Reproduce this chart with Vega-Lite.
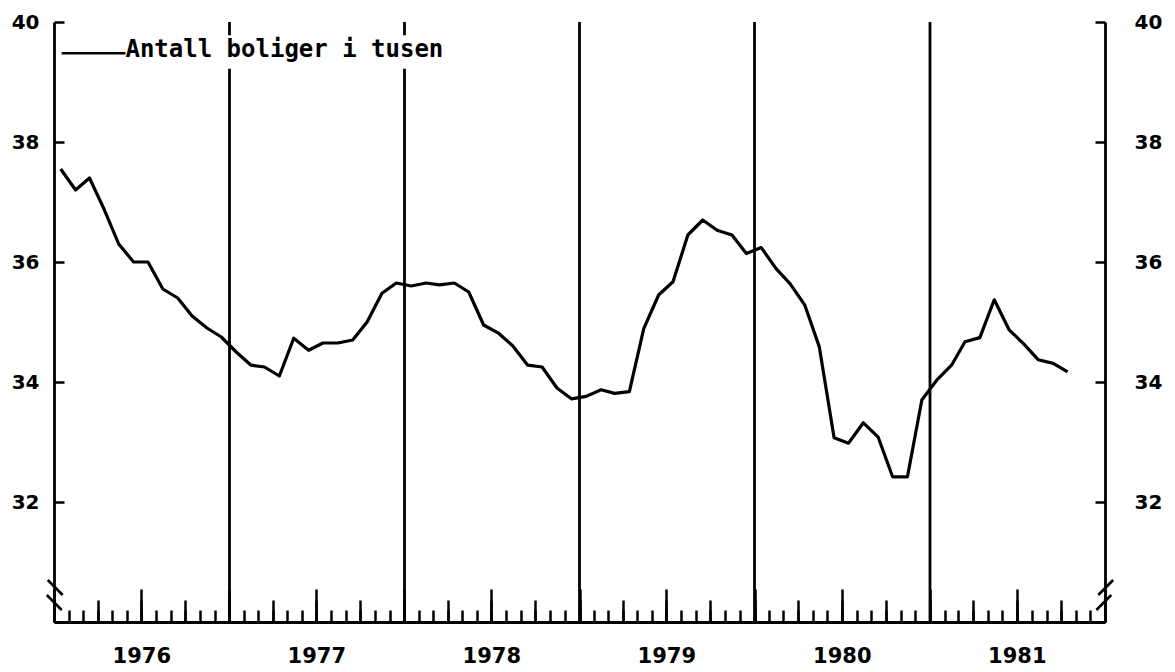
{
  "$schema": "https://vega.github.io/schema/vega-lite/v6.json",
  "width": 1051,
  "height": 600,
  "autosize": {"type": "none"},
  "padding": {"left": 54, "top": 22, "right": 70, "bottom": 50},
  "background": "white",
  "config": {
    "view": {"stroke": null},
    "axis": {
      "domainColor": "black",
      "domainWidth": 2.8,
      "tickColor": "black",
      "tickWidth": 2.5,
      "labelColor": "black",
      "labelFont": "DejaVu Sans",
      "labelFontWeight": "bold",
      "labelFontSize": 20,
      "grid": false,
      "title": null
    }
  },
  "datasets": {
    "boliger": [
      {"dato": "1976-01-15", "antall": 37.55}, {"dato": "1976-02-15", "antall": 37.2}, {"dato": "1976-03-15", "antall": 37.4},
      {"dato": "1976-04-15", "antall": 36.87}, {"dato": "1976-05-15", "antall": 36.3}, {"dato": "1976-06-15", "antall": 36.0},
      {"dato": "1976-07-15", "antall": 36.0}, {"dato": "1976-08-15", "antall": 35.55}, {"dato": "1976-09-15", "antall": 35.4},
      {"dato": "1976-10-15", "antall": 35.1}, {"dato": "1976-11-15", "antall": 34.9}, {"dato": "1976-12-15", "antall": 34.75},
      {"dato": "1977-01-15", "antall": 34.5}, {"dato": "1977-02-15", "antall": 34.28}, {"dato": "1977-03-15", "antall": 34.25},
      {"dato": "1977-04-15", "antall": 34.1}, {"dato": "1977-05-15", "antall": 34.73}, {"dato": "1977-06-15", "antall": 34.53},
      {"dato": "1977-07-15", "antall": 34.65}, {"dato": "1977-08-15", "antall": 34.65}, {"dato": "1977-09-15", "antall": 34.7},
      {"dato": "1977-10-15", "antall": 35.0}, {"dato": "1977-11-15", "antall": 35.48}, {"dato": "1977-12-15", "antall": 35.65},
      {"dato": "1978-01-15", "antall": 35.6}, {"dato": "1978-02-15", "antall": 35.65}, {"dato": "1978-03-15", "antall": 35.62},
      {"dato": "1978-04-15", "antall": 35.65}, {"dato": "1978-05-15", "antall": 35.5}, {"dato": "1978-06-15", "antall": 34.95},
      {"dato": "1978-07-15", "antall": 34.82}, {"dato": "1978-08-15", "antall": 34.6}, {"dato": "1978-09-15", "antall": 34.28},
      {"dato": "1978-10-15", "antall": 34.25}, {"dato": "1978-11-15", "antall": 33.9}, {"dato": "1978-12-15", "antall": 33.72},
      {"dato": "1979-01-15", "antall": 33.76}, {"dato": "1979-02-15", "antall": 33.87}, {"dato": "1979-03-15", "antall": 33.81},
      {"dato": "1979-04-15", "antall": 33.84}, {"dato": "1979-05-15", "antall": 34.89}, {"dato": "1979-06-15", "antall": 35.45},
      {"dato": "1979-07-15", "antall": 35.67}, {"dato": "1979-08-15", "antall": 36.45}, {"dato": "1979-09-15", "antall": 36.7},
      {"dato": "1979-10-15", "antall": 36.53}, {"dato": "1979-11-15", "antall": 36.45}, {"dato": "1979-12-15", "antall": 36.14},
      {"dato": "1980-01-15", "antall": 36.24}, {"dato": "1980-02-15", "antall": 35.89}, {"dato": "1980-03-15", "antall": 35.64},
      {"dato": "1980-04-15", "antall": 35.28}, {"dato": "1980-05-15", "antall": 34.59}, {"dato": "1980-06-15", "antall": 33.07},
      {"dato": "1980-07-15", "antall": 32.98}, {"dato": "1980-08-15", "antall": 33.32}, {"dato": "1980-09-15", "antall": 33.08},
      {"dato": "1980-10-15", "antall": 32.42}, {"dato": "1980-11-15", "antall": 32.42}, {"dato": "1980-12-15", "antall": 33.7},
      {"dato": "1981-01-15", "antall": 34.03}, {"dato": "1981-02-15", "antall": 34.28}, {"dato": "1981-03-15", "antall": 34.67},
      {"dato": "1981-04-15", "antall": 34.74}, {"dato": "1981-05-15", "antall": 35.37}, {"dato": "1981-06-15", "antall": 34.87},
      {"dato": "1981-07-15", "antall": 34.64}, {"dato": "1981-08-15", "antall": 34.37}, {"dato": "1981-09-15", "antall": 34.31},
      {"dato": "1981-10-15", "antall": 34.17}
    ],
    "aarsskille": [
      {"dato": "1977-01-01"}, {"dato": "1978-01-01"}, {"dato": "1979-01-01"}, {"dato": "1980-01-01"}, {"dato": "1981-01-01"}
    ]
  },
  "layer": [
    {
      "data": {"name": "aarsskille"},
      "mark": {"type": "rule", "color": "black", "strokeWidth": 2.8},
      "encoding": {
        "x": {"field": "dato", "type": "temporal",
              "scale": {"type": "utc", "nice": false, "domain": [{"year": 1976, "month": 1, "date": 1, "utc": true}, {"year": 1982, "month": 1, "date": 1, "utc": true}]},
              "axis": {"orient": "bottom", "tickCount": {"interval": "month", "step": 3}, "tickSize": -22, "labels": false, "domain": false}}
      }
    },
    {
      "data": {"values": [{}]},
      "mark": {"type": "rect", "fill": "white"},
      "encoding": {
        "x": {"datum": {"year": 1976, "month": 5, "date": 26, "utc": true}, "type": "temporal",
              "axis": {"orient": "bottom", "tickCount": {"interval": "month", "step": 1}, "tickSize": -12, "labels": false, "domain": false}},
        "x2": {"datum": {"year": 1978, "month": 3, "date": 28, "utc": true}},
        "y": {"datum": 39.78, "type": "quantitative", "axis": null},
        "y2": {"datum": 39.22}
      }
    },
    {
      "data": {"name": "boliger"},
      "mark": {"type": "line", "color": "black", "strokeWidth": 3.2, "strokeJoin": "round"},
      "encoding": {
        "x": {"field": "dato", "type": "temporal",
              "axis": {
                "orient": "bottom",
                "tickCount": {"interval": "month", "step": 6},
                "tickSize": -33,
                "labelExpr": "utcmonth(datum.value) == 6 ? utcFormat(datum.value, '%Y') : ''",
                "labelOverlap": false,
                "labelBound": false,
                "labelFlush": false,
                "labelPadding": 56,
                "labelFontSize": 21
              }},
        "y": {"field": "antall", "type": "quantitative",
              "scale": {"domain": [30, 40], "nice": false, "zero": false},
              "axis": {"orient": "left", "values": [32, 34, 36, 38, 40], "tickSize": -10, "labelPadding": 25}}
      }
    },
    {
      "data": {"values": [{}]},
      "mark": {"type": "rule", "color": "black", "strokeWidth": 2.6},
      "encoding": {
        "x": {"datum": {"year": 1976, "month": 1, "date": 17, "utc": true}, "type": "temporal", "axis": null},
        "x2": {"datum": {"year": 1976, "month": 5, "date": 29, "utc": true}},
        "y": {"datum": 39.48, "type": "quantitative",
              "axis": {"orient": "right", "values": [32, 34, 36, 38, 40], "tickSize": -10, "labelPadding": 39}}
      }
    },
    {
      "data": {"values": [{}]},
      "mark": {"type": "text", "text": "Antall boliger i tusen", "font": "DejaVu Sans Mono", "fontWeight": "bold", "fontSize": 24, "align": "left", "baseline": "alphabetic", "color": "black"},
      "encoding": {
        "x": {"datum": {"year": 1976, "month": 5, "date": 29, "utc": true}, "type": "temporal", "axis": null},
        "y": {"datum": 39.41, "type": "quantitative", "axis": null}
      }
    },
    {
      "data": {"values": [{}]},
      "mark": {"type": "rule", "color": "black", "strokeWidth": 2.6},
      "encoding": {
        "x": {"datum": {"year": 1975, "month": 12, "date": 19, "utc": true}, "type": "temporal", "axis": null},
        "x2": {"datum": {"year": 1976, "month": 1, "date": 19, "utc": true}},
        "y": {"datum": 30.7, "type": "quantitative", "axis": null},
        "y2": {"datum": 30.45}
      }
    },
    {
      "data": {"values": [{}]},
      "mark": {"type": "rule", "color": "black", "strokeWidth": 2.6},
      "encoding": {
        "x": {"datum": {"year": 1975, "month": 12, "date": 17, "utc": true}, "type": "temporal", "axis": null},
        "x2": {"datum": {"year": 1976, "month": 1, "date": 17, "utc": true}},
        "y": {"datum": 30.45, "type": "quantitative", "axis": null},
        "y2": {"datum": 30.2}
      }
    },
    {
      "data": {"values": [{}]},
      "mark": {"type": "rule", "color": "black", "strokeWidth": 2.6},
      "encoding": {
        "x": {"datum": {"year": 1981, "month": 12, "date": 14, "utc": true}, "type": "temporal", "axis": null},
        "x2": {"datum": {"year": 1982, "month": 1, "date": 14, "utc": true}},
        "y": {"datum": 30.2, "type": "quantitative", "axis": null},
        "y2": {"datum": 30.45}
      }
    },
    {
      "data": {"values": [{}]},
      "mark": {"type": "rule", "color": "black", "strokeWidth": 2.6},
      "encoding": {
        "x": {"datum": {"year": 1981, "month": 12, "date": 18, "utc": true}, "type": "temporal", "axis": null},
        "x2": {"datum": {"year": 1982, "month": 1, "date": 18, "utc": true}},
        "y": {"datum": 30.45, "type": "quantitative", "axis": null},
        "y2": {"datum": 30.7}
      }
    }
  ],
  "resolve": {"axis": {"x": "independent", "y": "independent"}}
}
